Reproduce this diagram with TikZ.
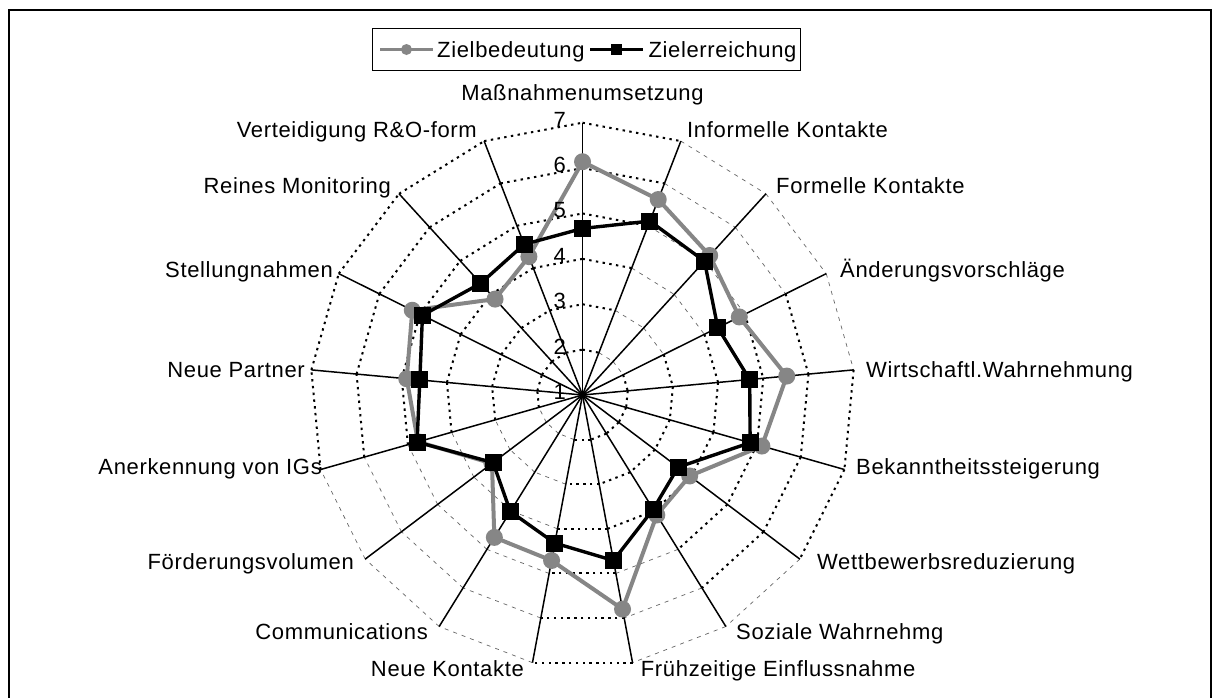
\documentclass[tikz,border=0pt]{standalone}
\usepackage{fontspec}
\setmainfont{Liberation Sans}[LetterSpace=3]
\definecolor{serg}{RGB}{134,134,134}
\begin{document}
\begin{tikzpicture}[x=1pt,y=-1pt,
  dotring/.style={line width=2pt, dash pattern=on 2.4pt off 4.4pt},
  thinring/.style={line width=0.7pt, black!60, dash pattern=on 4pt off 5pt},
  axisline/.style={line width=1.5pt},
  gser/.style={line width=4pt, serg, line join=round},
  bser/.style={line width=3.4pt, black, line join=round},
  gdot/.style={circle, fill=serg, minimum size=17pt, inner sep=0pt},
  bsq/.style={rectangle, fill=black, minimum size=17pt, inner sep=0pt},
  lbl/.style={inner sep=0pt, font=\fontsize{22}{24}\selectfont},
  frame/.style={line width=2pt}]
\useasboundingbox (0,0) rectangle (1212,697);
\fill[white] (0,0) rectangle (1212,697);
\draw[frame] (8.5,9.5) rectangle (1211,705);
% centre and grid coordinates
\coordinate (C) at (582.5,395);
\foreach \k in {0,...,16}{
  \pgfmathsetmacro\ang{90-\k*360/17}
  \coordinate (a\k) at ({582.5+272.3*cos(\ang)},{395-272.3*sin(\ang)});
  \foreach \v in {2,...,7}{
    \coordinate (r\v-\k) at ({582.5+(\v-1)*45.383*cos(\ang)},{395-(\v-1)*45.383*sin(\ang)});
  }
}
% rings
\foreach \v in {2,...,7}{
  \foreach \k in {0,...,16}{
    \pgfmathtruncatemacro\kn{mod(\k+1,17)}
    \pgfmathtruncatemacro\thin{(\k==1||\k==2||\k==9||\k==10||\k==11||(\k==3&&\v==7)||(\k==6&&\v==7)||(\k==7&&\v>4))?1:0}
    \ifnum\thin=1
      \draw[thinring] (r\v-\k) -- (r\v-\kn);
    \else
      \draw[dotring] (r\v-\k) -- (r\v-\kn);
    \fi
  }
}
% axes
\foreach \k in {0,...,16}{ \draw[axisline] (C) -- (a\k); }
% data
\foreach \v [count=\i from 0] in {6.14,5.62,5.16,4.86,5.52,5.11,3.96,4.11,5.80,4.71,4.69,3.50,4.77,4.89,5.19,3.86,4.27}{
  \pgfmathsetmacro\ang{90-\i*360/17}
  \coordinate (g\i) at ({582.5+(\v-1)*45.383*cos(\ang)},{395-(\v-1)*45.383*sin(\ang)});
}
\foreach \v [count=\i from 0] in {4.67,5.11,4.99,4.33,4.70,4.84,3.64,3.96,4.71,4.32,4.02,3.47,4.79,4.60,4.94,4.33,4.56}{
  \pgfmathsetmacro\ang{90-\i*360/17}
  \coordinate (b\i) at ({582.5+(\v-1)*45.383*cos(\ang)},{395-(\v-1)*45.383*sin(\ang)});
}
\draw[gser] (g0) \foreach \i in {1,...,16}{ -- (g\i) } -- cycle;
\foreach \i in {0,...,16}{ \node[gdot] (gm\i) at (g\i) {}; }
\draw[bser] (b0) \foreach \i in {1,...,16}{ -- (b\i) } -- cycle;
\foreach \i in {0,...,16}{ \node[bsq] (bm\i) at (b\i) {}; }
% value labels
\foreach \v in {1,...,7}{
  \node[lbl, anchor=base east] (v\v) at (566,{395-(\v-1)*45.383+4.5}) {\v};
}
% category labels
\node[lbl, anchor=base] (l0) at (582.5,100) {Maßnahmenumsetzung};
\node[lbl, anchor=base west] (l1) at (687,137) {Informelle Kontakte};
\node[lbl, anchor=base west] (l2) at (776,193) {Formelle Kontakte};
\node[lbl, anchor=base west] (l3) at (840,277) {Änderungsvorschläge};
\node[lbl, anchor=base west] (l4) at (866,377) {Wirtschaftl.Wahrnehmung};
\node[lbl, anchor=base west] (l5) at (856,474) {Bekanntheitssteigerung};
\node[lbl, anchor=base west] (l6) at (817,569) {Wettbewerbsreduzierung};
\node[lbl, anchor=base west] (l7) at (736,639) {Soziale Wahrnehmg};
\node[lbl, anchor=base west] (l8) at (640.7,676) {Frühzeitige Einflussnahme};
\node[lbl, anchor=base east] (l9) at (524,676) {Neue Kontakte};
\node[lbl, anchor=base east] (l10) at (428,639) {Communications};
\node[lbl, anchor=base east] (l11) at (354,569) {Förderungsvolumen};
\node[lbl, anchor=base east] (l12) at (322,474) {Anerkennung von IGs};
\node[lbl, anchor=base east] (l13) at (305,377) {Neue Partner};
\node[lbl, anchor=base east] (l14) at (333,277) {Stellungnahmen};
\node[lbl, anchor=base east] (l15) at (391,193) {Reines Monitoring};
\node[lbl, anchor=base east] (l16) at (477,137) {Verteidigung R\&O-form};
% legend
\node[draw, line width=1pt, minimum width=428pt, minimum height=42pt, inner sep=0pt] (leg) at (586,49) {};
\coordinate (lga) at (380,49.5); \coordinate (lgb) at (433,49.5);
\draw[line width=2.6pt, serg] (lga) -- (lgb);
\node[circle, fill=serg, minimum size=11pt, inner sep=0pt] (lgm1) at (406.5,49.5) {};
\node[lbl, anchor=base west] (lgt1) at (437,57) {Zielbedeutung};
\coordinate (lgc) at (590,49.5); \coordinate (lgd) at (643,49.5);
\draw[line width=2.6pt, black] (lgc) -- (lgd);
\node[rectangle, fill=black, minimum size=10.5pt, inner sep=0pt] (lgm2) at (616.5,49.5) {};
\node[lbl, anchor=base west] (lgt2) at (648.3,57) {Zielerreichung};
\end{tikzpicture}
\end{document}
